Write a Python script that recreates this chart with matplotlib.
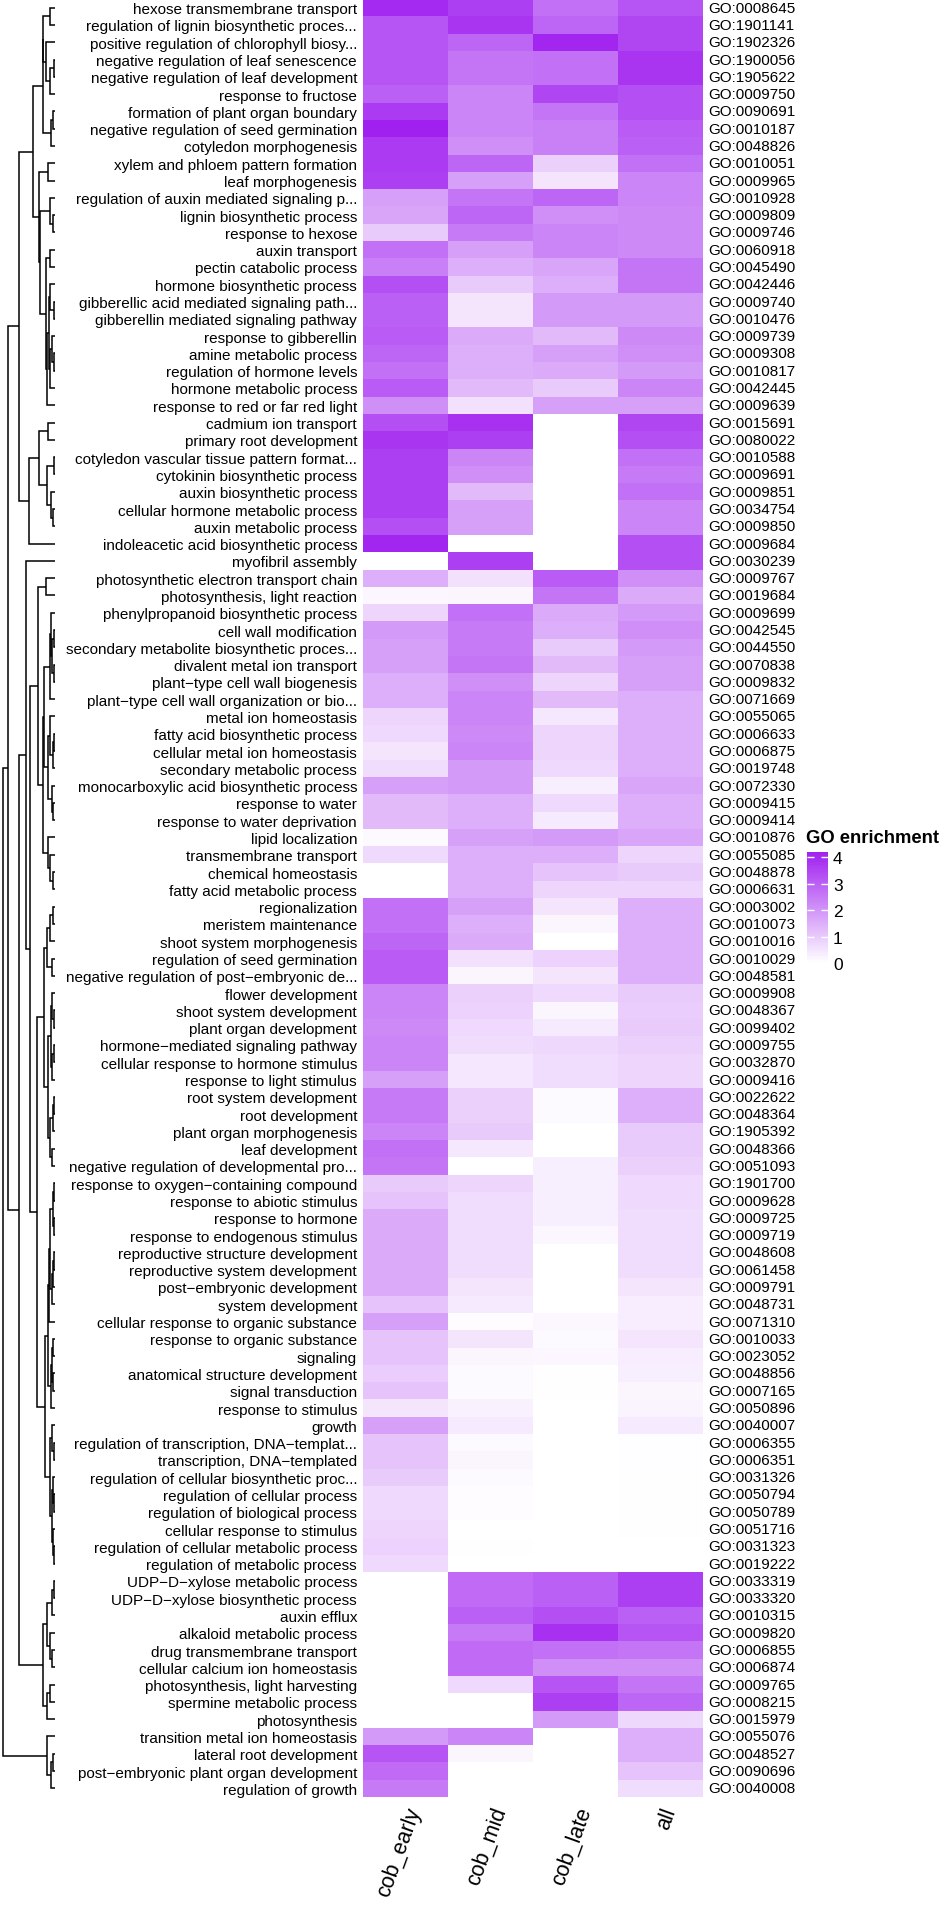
import numpy as np
import matplotlib
matplotlib.use("Agg")
import matplotlib.pyplot as plt
from matplotlib.colors import LinearSegmentedColormap

plt.rcParams['font.family'] = ['Liberation Sans', 'DejaVu Sans']

terms = [
    "hexose transmembrane transport",
    "regulation of lignin biosynthetic proces...",
    "positive regulation of chlorophyll biosy...",
    "negative regulation of leaf senescence",
    "negative regulation of leaf development",
    "response to fructose",
    "formation of plant organ boundary",
    "negative regulation of seed germination",
    "cotyledon morphogenesis",
    "xylem and phloem pattern formation",
    "leaf morphogenesis",
    "regulation of auxin mediated signaling p...",
    "lignin biosynthetic process",
    "response to hexose",
    "auxin transport",
    "pectin catabolic process",
    "hormone biosynthetic process",
    "gibberellic acid mediated signaling path...",
    "gibberellin mediated signaling pathway",
    "response to gibberellin",
    "amine metabolic process",
    "regulation of hormone levels",
    "hormone metabolic process",
    "response to red or far red light",
    "cadmium ion transport",
    "primary root development",
    "cotyledon vascular tissue pattern format...",
    "cytokinin biosynthetic process",
    "auxin biosynthetic process",
    "cellular hormone metabolic process",
    "auxin metabolic process",
    "indoleacetic acid biosynthetic process",
    "myofibril assembly",
    "photosynthetic electron transport chain",
    "photosynthesis, light reaction",
    "phenylpropanoid biosynthetic process",
    "cell wall modification",
    "secondary metabolite biosynthetic proces...",
    "divalent metal ion transport",
    "plant\u2212type cell wall biogenesis",
    "plant\u2212type cell wall organization or bio...",
    "metal ion homeostasis",
    "fatty acid biosynthetic process",
    "cellular metal ion homeostasis",
    "secondary metabolic process",
    "monocarboxylic acid biosynthetic process",
    "response to water",
    "response to water deprivation",
    "lipid localization",
    "transmembrane transport",
    "chemical homeostasis",
    "fatty acid metabolic process",
    "regionalization",
    "meristem maintenance",
    "shoot system morphogenesis",
    "regulation of seed germination",
    "negative regulation of post\u2212embryonic de...",
    "flower development",
    "shoot system development",
    "plant organ development",
    "hormone\u2212mediated signaling pathway",
    "cellular response to hormone stimulus",
    "response to light stimulus",
    "root system development",
    "root development",
    "plant organ morphogenesis",
    "leaf development",
    "negative regulation of developmental pro...",
    "response to oxygen\u2212containing compound",
    "response to abiotic stimulus",
    "response to hormone",
    "response to endogenous stimulus",
    "reproductive structure development",
    "reproductive system development",
    "post\u2212embryonic development",
    "system development",
    "cellular response to organic substance",
    "response to organic substance",
    "signaling",
    "anatomical structure development",
    "signal transduction",
    "response to stimulus",
    "growth",
    "regulation of transcription, DNA\u2212templat...",
    "transcription, DNA\u2212templated",
    "regulation of cellular biosynthetic proc...",
    "regulation of cellular process",
    "regulation of biological process",
    "cellular response to stimulus",
    "regulation of cellular metabolic process",
    "regulation of metabolic process",
    "UDP\u2212D\u2212xylose metabolic process",
    "UDP\u2212D\u2212xylose biosynthetic process",
    "auxin efflux",
    "alkaloid metabolic process",
    "drug transmembrane transport",
    "cellular calcium ion homeostasis",
    "photosynthesis, light harvesting",
    "spermine metabolic process",
    "photosynthesis",
    "transition metal ion homeostasis",
    "lateral root development",
    "post\u2212embryonic plant organ development",
    "regulation of growth",
]

go_ids = [
    "GO:0008645", "GO:1901141", "GO:1902326", "GO:1900056", "GO:1905622",
    "GO:0009750", "GO:0090691", "GO:0010187", "GO:0048826", "GO:0010051",
    "GO:0009965", "GO:0010928", "GO:0009809", "GO:0009746", "GO:0060918",
    "GO:0045490", "GO:0042446", "GO:0009740", "GO:0010476", "GO:0009739",
    "GO:0009308", "GO:0010817", "GO:0042445", "GO:0009639", "GO:0015691",
    "GO:0080022", "GO:0010588", "GO:0009691", "GO:0009851", "GO:0034754",
    "GO:0009850", "GO:0009684", "GO:0030239", "GO:0009767", "GO:0019684",
    "GO:0009699", "GO:0042545", "GO:0044550", "GO:0070838", "GO:0009832",
    "GO:0071669", "GO:0055065", "GO:0006633", "GO:0006875", "GO:0019748",
    "GO:0072330", "GO:0009415", "GO:0009414", "GO:0010876", "GO:0055085",
    "GO:0048878", "GO:0006631", "GO:0003002", "GO:0010073", "GO:0010016",
    "GO:0010029", "GO:0048581", "GO:0009908", "GO:0048367", "GO:0099402",
    "GO:0009755", "GO:0032870", "GO:0009416", "GO:0022622", "GO:0048364",
    "GO:1905392", "GO:0048366", "GO:0051093", "GO:1901700", "GO:0009628",
    "GO:0009725", "GO:0009719", "GO:0048608", "GO:0061458", "GO:0009791",
    "GO:0048731", "GO:0071310", "GO:0010033", "GO:0023052", "GO:0048856",
    "GO:0007165", "GO:0050896", "GO:0040007", "GO:0006355", "GO:0006351",
    "GO:0031326", "GO:0050794", "GO:0050789", "GO:0051716", "GO:0031323",
    "GO:0019222", "GO:0033319", "GO:0033320", "GO:0010315", "GO:0009820",
    "GO:0006855", "GO:0006874", "GO:0009765", "GO:0008215", "GO:0015979",
    "GO:0055076", "GO:0048527", "GO:0090696", "GO:0040008",
]

columns = ["cob_early", "cob_mid", "cob_late", "all"]

cob_early = [4.0, 3.2, 3.2, 3.2, 3.2, 3.0, 3.7, 4.2, 3.7, 3.7,
             3.6, 1.8, 1.7, 1.0, 2.7, 2.4, 3.3, 3.0, 3.0, 3.1,
             2.9, 2.7, 3.1, 2.1, 3.3, 3.8, 3.6, 3.6, 3.6, 3.6,
             3.3, 4.1, 0.0, 1.5, 0.15, 0.8, 1.9, 1.8, 1.8, 1.5,
             1.5, 0.8, 0.7, 0.5, 0.65, 1.8, 1.3, 1.3, 0.1, 0.7,
             0.0, 0.0, 2.7, 2.7, 2.9, 3.1, 3.1, 2.3, 2.3, 2.2,
             2.3, 2.3, 1.8, 2.5, 2.5, 2.3, 2.7, 2.6, 1.0, 1.1,
             1.6, 1.6, 1.6, 1.6, 1.6, 1.1, 1.8, 1.1, 1.1, 0.95,
             1.1, 0.5, 1.8, 1.1, 1.1, 1.0, 0.7, 0.7, 0.8, 0.85,
             0.7, 0.0, 0.0, 0.0, 0.0, 0.0, 0.0, 0.0, 0.0, 0.0,
             1.9, 3.2, 2.8, 2.5]
cob_mid = [3.6, 3.8, 2.9, 2.6, 2.6, 2.3, 2.3, 2.3, 2.1, 2.9,
           1.8, 2.6, 2.9, 2.5, 1.8, 1.5, 1.0, 0.5, 0.5, 1.6,
           1.5, 1.5, 1.3, 0.6, 3.9, 3.6, 2.3, 2.1, 1.3, 1.8,
           1.8, 0.0, 3.6, 0.6, 0.2, 2.7, 2.5, 2.5, 2.6, 2.1,
           2.3, 2.3, 2.2, 2.3, 1.9, 1.9, 1.5, 1.5, 1.8, 1.5,
           1.5, 1.5, 1.8, 1.5, 1.6, 0.6, 0.2, 0.9, 0.85, 0.7,
           0.65, 0.45, 0.45, 0.9, 0.9, 1.0, 0.45, 0.0, 0.8, 0.65,
           0.65, 0.65, 0.65, 0.65, 0.5, 0.4, 0.05, 0.5, 0.2, 0.1,
           0.12, 0.25, 0.4, 0.12, 0.18, 0.1, 0.08, 0.08, 0.0, 0.02,
           0.0, 2.8, 2.8, 3.0, 2.5, 2.8, 2.8, 0.7, 0.0, 0.0,
           2.3, 0.2, 0.0, 0.0]
cob_late = [2.7, 2.9, 4.1, 2.7, 2.7, 3.5, 2.6, 2.4, 2.4, 0.9,
            0.5, 2.9, 2.1, 2.3, 2.3, 1.7, 1.5, 1.9, 1.9, 1.3,
            1.8, 1.6, 1.0, 1.8, 0.0, 0.0, 0.0, 0.0, 0.0, 0.0,
            0.0, 0.0, 0.0, 3.1, 2.6, 1.6, 1.5, 1.0, 1.3, 0.8,
            1.3, 0.45, 0.8, 0.8, 0.7, 0.3, 0.7, 0.4, 1.9, 1.5,
            1.1, 0.8, 0.5, 0.2, 0.0, 0.85, 0.5, 0.7, 0.2, 0.4,
            0.75, 0.65, 0.65, 0.1, 0.1, 0.0, 0.0, 0.3, 0.3, 0.3,
            0.3, 0.15, 0.0, 0.0, 0.0, 0.0, 0.15, 0.1, 0.15, 0.03,
            0.03, 0.0, 0.0, 0.0, 0.0, 0.0, 0.0, 0.0, 0.0, 0.0,
            0.0, 3.0, 3.0, 3.3, 3.9, 2.7, 2.1, 3.2, 3.6, 1.9,
            0.0, 0.0, 0.0, 0.0]
all_stages = [3.2, 3.5, 3.5, 3.8, 3.8, 3.3, 3.3, 3.1, 3.0, 2.7,
              2.3, 2.3, 2.2, 2.2, 2.2, 2.6, 2.6, 1.9, 1.9, 2.2,
              2.1, 1.9, 2.3, 1.8, 3.5, 3.3, 2.7, 2.5, 2.7, 2.3,
              2.3, 3.3, 3.3, 2.1, 1.6, 1.9, 2.1, 1.9, 1.8, 1.8,
              1.5, 1.5, 1.5, 1.5, 1.5, 1.7, 1.5, 1.5, 1.7, 0.8,
              1.0, 0.8, 1.5, 1.5, 1.5, 1.5, 1.5, 1.0, 0.95, 1.0,
              0.9, 0.8, 0.8, 1.5, 1.5, 1.0, 1.0, 0.9, 0.7, 0.7,
              0.65, 0.65, 0.65, 0.65, 0.5, 0.35, 0.35, 0.5, 0.35, 0.3,
              0.2, 0.22, 0.4, 0.04, 0.04, 0.03, 0.03, 0.03, 0.02, 0.0,
              0.0, 3.6, 3.6, 3.0, 3.2, 2.6, 2.1, 2.6, 2.9, 0.75,
              1.5, 1.5, 1.1, 0.65]

# Row dendrogram: nested [left, right, merge height]; leaves are row indices
tree_A1 = [[[0, 1, 5], [2, [[3, 4, 0.7], 5, 5], 9], 11.7], [[6, 7, 1.7], 8, 4.3], 12.3]
tree_A2 = [[9, 10, 6.7],
           [[11, [12, 13, 1.7], 5],
            [[14, 15, 5], [[[16, [17, 18, 0.7], 5], [[19, [20, 21, 1], 3], 22, 5], 6], 23, 8.3], 9],
            14.5], 15.7]
tree_B = [[[24, 25, 7.3], [[26, 27, 0.7], [28, [29, 30, 1.7], 4.3], 8.3], 16.3], 31, 25.7]
tree_AB = [[tree_A1, tree_A2, 21.7], tree_B, 36]
tree_Cc = [[[[35, [[36, 37, 1], [38, 39, 1], 2.5], 4], 40, 5],
            [[41, [[42, 43, 0.7], 44, 2], 5], [45, [46, 47, 1.7], 3.3], 7.3], 10.7],
           [48, [49, [50, 51, 1.7], 5], 7], 12.3]
tree_Ce = [[[[52, 53, 1.7], 54, 5], [55, 56, 3.3], 8],
           [[[57, [58, 59, 0.7], 2.5], [[60, 61, 1], 62, 2.5], 4],
            [[[63, 64, 0.7], 65, 1.7], [66, 67, 3.3], 5], 6.7], 10.7]
tree_Cf = [[[[[[68, 69, 0.5], [70, 71, 0.5], 1.5], [[[72, 73, 0.5], 74, 1.5], 75, 3], 5], 76, 5.7],
            [[[77, 78, 1.5], [79, 80, 1.5], 2.5], 81, 3.5], 7],
           [[82, [83, 84, 0.7], 3], [[85, [86, 87, 0.5], 2], [88, [89, 90, 0.5], 1.5], 3], 5], 10]
tree_C = [32, [[[33, 34, 9], tree_Cc, 16.7], [tree_Ce, tree_Cf, 18.3], 25], 29]
tree_D = [[[[91, 92, 0.5], 93, 3], [94, [95, 96, 3], 5], 8], [[97, 98, 5], 99, 8], 12]
tree_E = [100, [[101, 102, 2], 103, 4], 8]
tree = [[tree_AB, [tree_C, tree_D, 36], 46.7], tree_E, 52.3]

W, H = 945, 1906
fig = plt.figure(figsize=(W / 100, H / 100), dpi=100)


def px_axes(x0, y0, x1, y1):
    return fig.add_axes([x0 / W, 1 - y1 / H, (x1 - x0) / W, (y1 - y0) / H])


n = len(terms)
data = np.column_stack([cob_early, cob_mid, cob_late, all_stages])
cmap = LinearSegmentedColormap.from_list("wp", ["#FFFFFF", "#A020F0"])

ax = px_axes(363, 0, 703, 1798)
mesh = ax.pcolormesh(np.arange(5) - 0.5, np.arange(n + 1) - 0.5, data,
                     cmap=cmap, vmin=0, vmax=4.2, shading='flat', edgecolors='none')
ax.set_xlim(-0.5, 3.5)
ax.set_ylim(n - 0.5, -0.5)
ax.set_yticks(range(n))
ax.set_yticklabels(terms, fontsize=11)
ax.tick_params(axis='y', length=0, pad=4.3)
ax.set_xticks(range(4))
ax.set_xticklabels(columns, rotation=70, ha='right', va='top',
                   rotation_mode='anchor', fontsize=15.5)
ax.tick_params(axis='x', length=0, pad=5)
for s in ax.spines.values():
    s.set_visible(False)
for i, g in enumerate(go_ids):
    ax.text(1 + 5 / 340, i, g, transform=ax.get_yaxis_transform(),
            va='center', ha='left', fontsize=11)

# dendrogram
dax = px_axes(0, 0, 57, 1798)
dax.set_xlim(55, -2)
dax.set_ylim(n - 0.5, -0.5)
dax.axis('off')


def draw(node):
    if isinstance(node, int):
        return float(node), 0.0
    left, right, h = node
    yl, hl = draw(left)
    yr, hr = draw(right)
    dax.plot([hl, h, h, hr], [yl, yl, yr, yr], color='black', lw=1.1,
             solid_capstyle='butt', solid_joinstyle='miter')
    return (yl + yr) / 2, h


draw(tree)

# legend
cax = px_axes(807, 853, 828, 964)
cb = fig.colorbar(mesh, cax=cax, ticks=[0, 1, 2, 3, 4])
cb.outline.set_visible(False)
cax.tick_params(which='major', direction='in', color='white', length=5, width=1,
                left=True, right=True, labelsize=12.5, pad=3.6)
cax.minorticks_off()
fig.text(806 / W, 1 - 843 / H, "GO enrichment", fontweight='bold', fontsize=13.3,
         ha='left', va='baseline')

fig.savefig("out.png", dpi=100)
